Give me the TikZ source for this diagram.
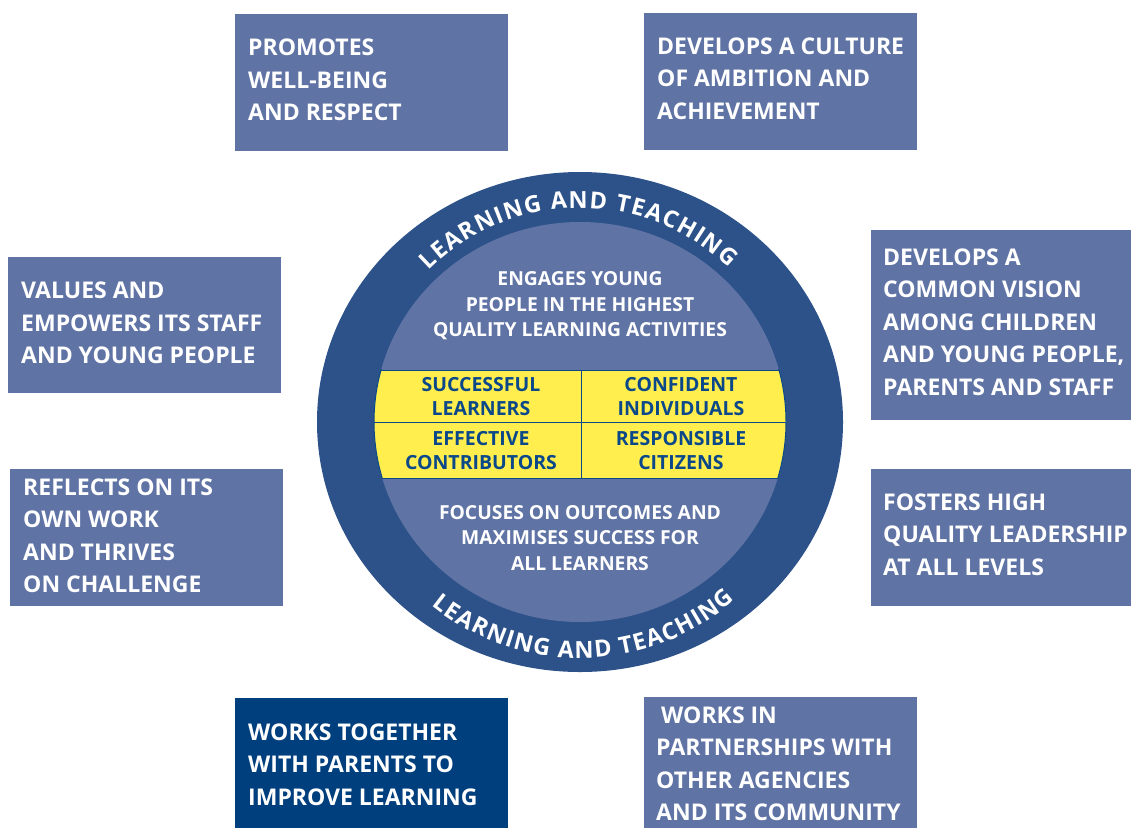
\documentclass[tikz,border=0pt]{standalone}
\usepackage{fontspec}
\setmainfont{Open Sans}
\usetikzlibrary{decorations.text}
\definecolor{boxblue}{RGB}{96,115,165}
\definecolor{ringblue}{RGB}{44,82,137}
\definecolor{darkbox}{RGB}{0,63,125}
\definecolor{bandyellow}{RGB}{255,238,77}
\definecolor{bandtext}{RGB}{10,72,138}
\newcommand{\boxfont}{\fontsize{23}{32.5}\selectfont\bfseries}
\newcommand{\midfont}{\fontsize{19.3}{25.5}\selectfont\bfseries}
\newcommand{\cellfont}{\fontsize{19.5}{24}\selectfont\bfseries}
\newcommand{\arcfont}{\fontsize{23.5}{23.5}\selectfont\bfseries\color{white}}
\begin{document}
\begin{tikzpicture}[x=1pt,y=1pt,
  boxbg/.style={fill=boxblue, draw=none, inner sep=0pt, anchor=north west},
  boxtext/.style={text=white, inner sep=0pt, anchor=west, align=left, font=\boxfont},
  midtext/.style={text=white, align=center, font=\midfont, inner sep=0pt},
  celltext/.style={text=bandtext, align=center, font=\cellfont, inner sep=0pt}]
\useasboundingbox (0,0) rectangle (1131,-828);
\coordinate (C) at (580,-422);
% rings
\fill[ringblue] (C) ellipse [x radius=263, y radius=250];
\fill[boxblue] (C) ellipse [x radius=206, y radius=200];
% yellow band
\begin{scope}
  \clip (C) ellipse [x radius=206, y radius=200];
  \fill[bandyellow] (360,-370) rectangle (800,-478);
  \draw[bandtext, line width=1pt] (360,-370) -- (800,-370) (360,-478) -- (800,-478)
     (360,-422) -- (800,-422) (581,-370) -- (581,-478);
\end{scope}
\begin{scope}
  \clip (360,-369.5) rectangle (800,-478.5);
  \draw[bandtext, line width=1pt] (C) ellipse [x radius=206, y radius=200];
\end{scope}
\node[celltext] (sl) at (481,-396.5) {SUCCESSFUL\\LEARNERS};
\node[celltext] (ci) at (681,-396.5) {CONFIDENT\\INDIVIDUALS};
\node[celltext] (ec) at (481,-450.5) {EFFECTIVE\\CONTRIBUTORS};
\node[celltext] (rc) at (681,-450.5) {RESPONSIBLE\\CITIZENS};
\node[midtext] (engage) at (580,-306) {ENGAGES YOUNG\\PEOPLE IN THE HIGHEST\\QUALITY LEARNING ACTIVITIES};
\node[midtext] (focus) at (580,-538) {FOCUSES ON OUTCOMES AND\\MAXIMISES SUCCESS FOR\\ALL LEARNERS};
% curved texts
\path[decorate, decoration={text along path, text align=fit to path,
   text={|\arcfont|LEARNING AND TEACHING}}]
   (C) ++(135:214) arc[start angle=135, end angle=46, radius=214];
\path[decorate, decoration={text along path, text align=fit to path,
   text={|\arcfont|LEARNING AND TEACHING}}]
   (C) ++(231:236) arc[start angle=231, end angle=311, radius=236];
% boxes
\node[boxbg, minimum width=273pt, minimum height=137pt] (b1) at (235,-14) {};
\node[boxtext] (t1) at ([xshift=13pt,yshift=2.5pt]b1.west) {PROMOTES\\WELL-BEING\\AND RESPECT};
\node[boxbg, minimum width=273pt, minimum height=137pt] (b2) at (644,-13) {};
\node[boxtext] (t2) at ([xshift=13pt,yshift=3pt]b2.west) {DEVELOPS A CULTURE\\OF AMBITION AND\\ACHIEVEMENT};
\node[boxbg, minimum width=273pt, minimum height=136pt] (b3) at (8,-257) {};
\node[boxtext] (t3) at ([xshift=13pt,yshift=2pt]b3.west) {VALUES AND\\EMPOWERS ITS STAFF\\AND YOUNG PEOPLE};
\node[boxbg, minimum width=260pt, minimum height=190pt] (b4) at (871,-230) {};
\node[boxtext] (t4) at ([xshift=12pt,yshift=3pt]b4.west) {DEVELOPS A\\COMMON VISION\\AMONG CHILDREN\\AND YOUNG PEOPLE,\\PARENTS AND STAFF};
\node[boxbg, minimum width=273pt, minimum height=137pt] (b5) at (10,-469) {};
\node[boxtext] (t5) at ([xshift=13pt,yshift=2pt]b5.west) {REFLECTS ON ITS\\OWN WORK\\AND THRIVES\\ON CHALLENGE};
\node[boxbg, minimum width=260pt, minimum height=137pt] (b6) at (871,-469) {};
\node[boxtext] (t6) at ([xshift=12pt,yshift=3pt]b6.west) {FOSTERS HIGH\\QUALITY LEADERSHIP\\AT ALL LEVELS};
\node[boxbg, fill=darkbox, minimum width=273pt, minimum height=130pt] (b7) at (235,-698) {};
\node[boxtext] (t7) at ([xshift=13pt,yshift=-1.5pt]b7.west) {WORKS TOGETHER\\WITH PARENTS TO\\IMPROVE LEARNING};
\node[boxbg, minimum width=273pt, minimum height=131pt] (b8) at (644,-697) {};
\node[boxtext] (t8) at ([xshift=12pt,yshift=-1pt]b8.west) {\hspace{5pt}WORKS IN\\PARTNERSHIPS WITH\\OTHER AGENCIES\\AND ITS COMMUNITY};
\end{tikzpicture}
\end{document}
